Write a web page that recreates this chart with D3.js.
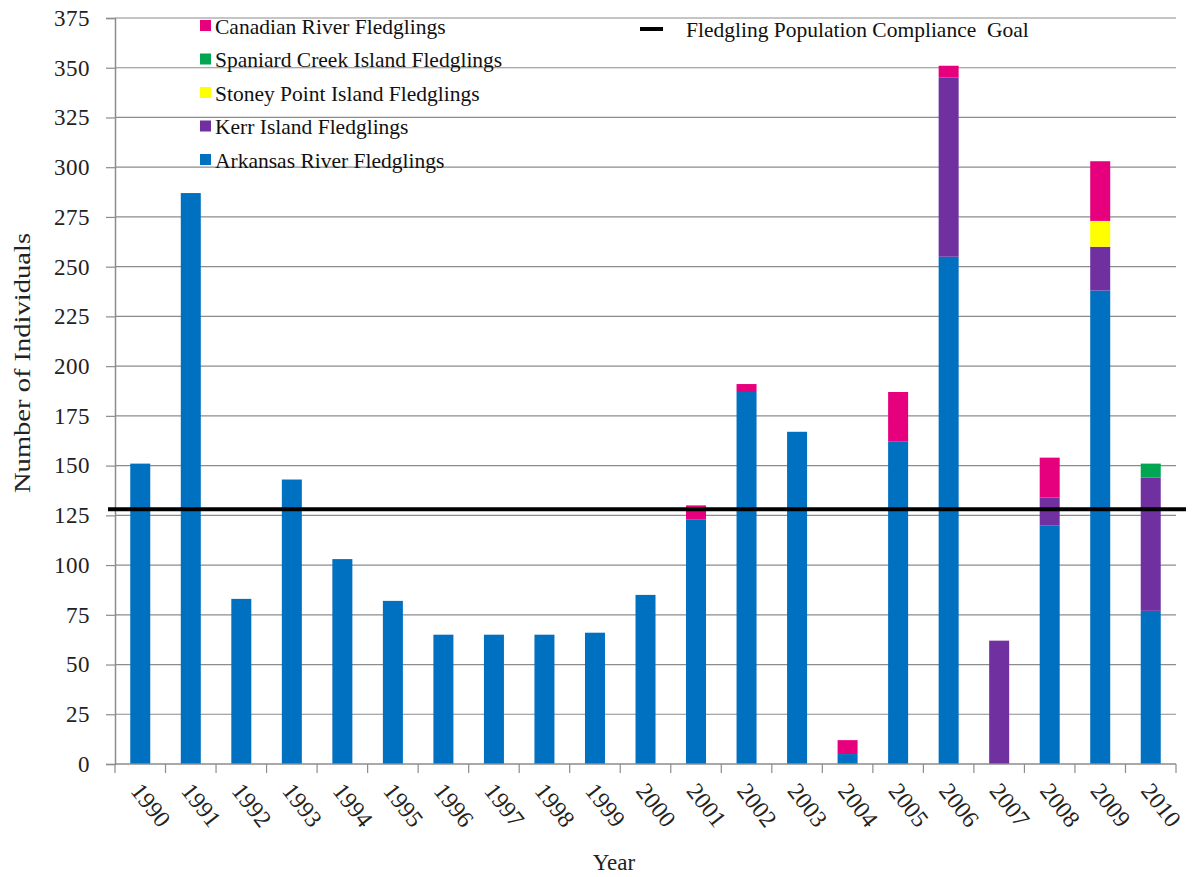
<!DOCTYPE html>
<html><head><meta charset="utf-8">
<script src="https://cdn.jsdelivr.net/npm/d3@7"></script>
<style>body{margin:0;background:#fff}svg{display:block}</style>
</head><body>
<svg id="c" width="1196" height="877"></svg>
<script>
const years = ["1990","1991","1992","1993","1994","1995","1996","1997","1998","1999","2000","2001","2002","2003","2004","2005","2006","2007","2008","2009","2010"];
const arkansas = [151,287,83,143,103,82,65,65,65,66,85,123,187,167,5,162,255,0,120,238,77];
const kerr     = [0,0,0,0,0,0,0,0,0,0,0,0,0,0,0,0,90,62,14,22,67];
const stoney   = [0,0,0,0,0,0,0,0,0,0,0,0,0,0,0,0,0,0,0,13,0];
const spaniard = [0,0,0,0,0,0,0,0,0,0,0,0,0,0,0,0,0,0,0,0,7];
const canadian = [0,0,0,0,0,0,0,0,0,0,0,7,4,0,7,25,6,0,20,30,0];
const goal = 128;
const yTicks = [0,25,50,75,100,125,150,175,200,225,250,275,300,325,350,375];
const seriesNames = ["Arkansas River Fledglings","Kerr Island Fledglings","Stoney Point Island Fledglings","Spaniard Creek Island Fledglings","Canadian River Fledglings"];
const seriesColors = ["#0070c0","#7030a0","#ffff00","#00a651","#e6007e"];
const seriesData = [arkansas,kerr,stoney,spaniard,canadian];

const svg = d3.select("#c");
const SERIF = "'Liberation Serif', 'Times New Roman', serif";
const L=115, R=1176, T=18, B=764;
const xb = d3.scaleBand().domain(years).range([L,R]);
const y = d3.scaleLinear().domain([0,375]).range([B,T]);

// gridlines
svg.append("g").selectAll("line").data(yTicks.filter(d=>d>0)).join("line")
  .attr("x1",L).attr("x2",R).attr("y1",d=>y(d)).attr("y2",d=>y(d))
  .attr("stroke","#8c8c8c").attr("stroke-width",1.2);

// stacked bars
const rows = years.map((yr,i)=>{const o={year:yr}; seriesData.forEach((s,k)=>o[k]=s[i]); return o;});
const stack = d3.stack().keys([0,1,2,3,4])(rows);
const bw = 20;
svg.append("g").selectAll("g").data(stack).join("g").attr("fill",(d,i)=>seriesColors[i])
  .selectAll("rect").data(d=>d).join("rect")
  .attr("x",d=>xb(d.data.year)+xb.bandwidth()/2-bw/2).attr("width",bw)
  .attr("y",d=>y(d[1])).attr("height",d=>y(d[0])-y(d[1]));

// y axis
const yAxis = d3.axisLeft(y).tickValues(yTicks).tickSize(9).tickPadding(16);
const ga = svg.append("g").attr("transform",`translate(${L},0)`).call(yAxis);
ga.attr("font-family",SERIF).attr("font-size",23);
ga.select(".domain").attr("stroke","#8c8c8c").attr("stroke-width",1.5);
ga.selectAll(".tick line").attr("stroke","#8c8c8c").attr("stroke-width",1.2);
ga.selectAll("text").style("font-family",SERIF).style("font-size","23px").attr("fill","#222").attr("letter-spacing",0.5);

// x axis
svg.append("line").attr("x1",L).attr("x2",R).attr("y1",B).attr("y2",B).attr("stroke","#8c8c8c").attr("stroke-width",1.5);
const bounds = years.map(d=>xb(d)).concat([R]);
svg.append("g").selectAll("line").data(bounds).join("line")
  .attr("x1",d=>d).attr("x2",d=>d).attr("y1",B).attr("y2",B+9).attr("stroke","#8c8c8c").attr("stroke-width",1.2);
svg.append("g").selectAll("text").data(years).join("text")
  .attr("transform",d=>`translate(${xb(d)+xb.bandwidth()/2-4},${B+22}) rotate(52)`)
  .attr("dy","0.35em")
  .style("font-family",SERIF).style("font-size","24px").attr("fill","#222")
  .text(d=>d);

// goal line
svg.append("line").attr("x1",L-7).attr("x2",R+10).attr("y1",y(goal)).attr("y2",y(goal))
  .attr("stroke","#000").attr("stroke-width",4);

// axis titles
svg.append("text").attr("transform","translate(30,363) rotate(-90)").attr("text-anchor","middle")
  .style("font-family",SERIF).style("font-size","24px").attr("fill","#222")
  .attr("textLength",260).attr("lengthAdjust","spacingAndGlyphs")
  .text("Number of Individuals");
svg.append("text").attr("x",614).attr("y",870).attr("text-anchor","middle")
  .style("font-family",SERIF).style("font-size","23px").attr("fill","#222").text("Year");

// legend
const legOrder = [4,3,2,1,0];
const lg = svg.append("g").selectAll("g").data(legOrder).join("g")
  .attr("transform",(d,i)=>`translate(200,${26+i*33.5})`);
lg.append("rect").attr("x",0).attr("y",-6).attr("width",11).attr("height",11).attr("fill",d=>seriesColors[d]);
lg.append("text").attr("x",15).attr("y",0).attr("dy","0.35em")
  .style("font-family",SERIF).style("font-size","21.5px").attr("fill","#111")
  .text(d=>seriesNames[d]);
svg.append("line").attr("x1",640).attr("x2",663).attr("y1",29).attr("y2",29).attr("stroke","#000").attr("stroke-width",4);
svg.append("text").attr("x",686).attr("y",29).attr("dy","0.35em")
  .style("font-family",SERIF).style("font-size","21.5px").attr("fill","#111")
  .attr("xml:space","preserve").text("Fledgling Population Compliance  Goal");
</script>
</body></html>
